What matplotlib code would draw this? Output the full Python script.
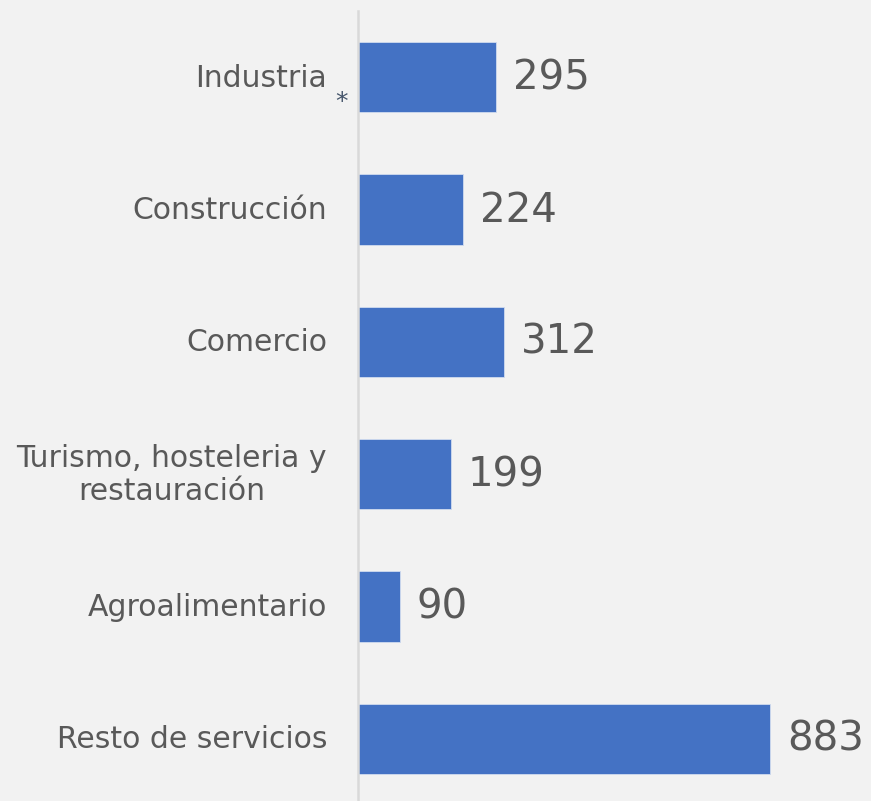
import matplotlib
matplotlib.use("Agg")
import matplotlib.pyplot as plt

categories = ["Industria", "Construcción", "Comercio",
              "Turismo, hosteleria y\nrestauración", "Agroalimentario", "Resto de servicios"]
values = [295, 224, 312, 199, 90, 883]

BG = "#f2f2f2"
BAR = "#4472c4"
TXT = "#595959"
FONT = ["DejaVu Sans"]

fig = plt.figure(figsize=(8.71, 8.01), dpi=100, facecolor=BG)
ax = fig.add_axes([358/871, -4/801, 1 - 358/871, 794/801])
ax.set_facecolor(BG)

y = list(range(len(categories)))
ax.barh(y, values, height=0.53, color=BAR, edgecolor="#d0dbef", linewidth=0.6, zorder=2)
ax.set_ylim(len(categories) - 0.5, -0.5)
ax.set_xlim(0, (871 - 358) / (412 / 883))

for yi, v in zip(y, values):
    ax.annotate(str(v), xy=(v, yi), xytext=(17, -1), textcoords="offset pixels",
                ha="left", va="center", fontsize=29, color=TXT, family=FONT)

for yi, c in zip(y, categories):
    ax.annotate(c, xy=(0, yi), xytext=(-31, -1), textcoords="offset pixels",
                ha="right", va="center", multialignment="center",
                fontsize=21.5, color=TXT, family=FONT, linespacing=1.2)

ax.annotate("*", xy=(0, 0), xytext=(-17, -25), textcoords="offset pixels",
            ha="center", va="center", fontsize=18, color="#44546a", style="italic", family=FONT)

for s in ["top", "right", "bottom"]:
    ax.spines[s].set_visible(False)
ax.spines["left"].set_color("#d9d9d9")
ax.spines["left"].set_linewidth(1.8)
ax.set_xticks([])
ax.set_yticks([])

fig.savefig("out.png", dpi=100, facecolor=BG)
